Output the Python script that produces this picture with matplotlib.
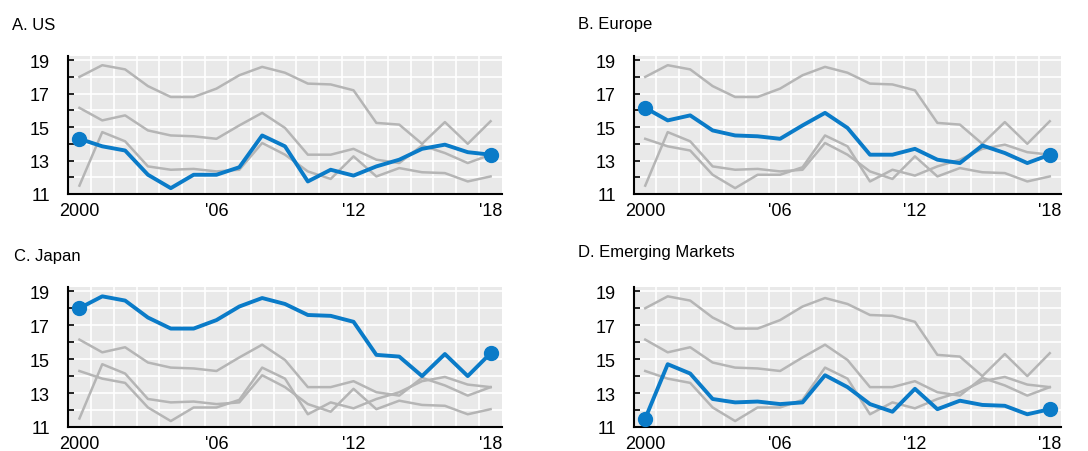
import numpy as np
import matplotlib
matplotlib.use('Agg')
import matplotlib.pyplot as plt
from matplotlib.ticker import MultipleLocator, FixedLocator

plt.rcParams['font.family'] = ['Liberation Sans', 'DejaVu Sans']

years = list(range(2000, 2019))

us = [14.3, 13.85, 13.6, 12.15, 11.35, 12.15, 12.15, 12.6, 14.5, 13.85,
      11.75, 12.45, 12.1, 12.65, 13.05, 13.7, 13.95, 13.5, 13.35]
europe = [16.15, 15.4, 15.7, 14.8, 14.5, 14.45, 14.3, 15.1, 15.85, 14.95,
          13.35, 13.35, 13.7, 13.05, 12.85, 13.9, 13.45, 12.85, 13.35]
japan = [18.0, 18.7, 18.45, 17.45, 16.8, 16.8, 17.3, 18.1, 18.6, 18.25,
         17.6, 17.55, 17.2, 15.25, 15.15, 14.0, 15.3, 14.0, 15.35]
em = [11.5, 14.7, 14.15, 12.65, 12.45, 12.5, 12.35, 12.45, 14.05, 13.35,
      12.35, 11.9, 13.25, 12.05, 12.55, 12.3, 12.25, 11.75, 12.05]

series = [us, europe, japan, em]
titles = ['A. US', 'B. Europe', 'C. Japan', 'D. Emerging Markets']
xtick_pos = [2000, 2006, 2012, 2018]
xtick_labels = ['2000', "'06", "'12", "'18"]
ytick_pos = [11, 13, 15, 17, 19]

BLUE = '#0a7bc8'
GRAY = '#b5b5b5'
BG = '#e9e9e9'

W, H = 1088, 452
fig = plt.figure(figsize=(W / 100, H / 100), dpi=100)

# axes boxes in pixels: left, top, right, bottom
boxes = [(68, 57, 502, 195), (634, 57, 1061, 195),
         (68, 288, 502, 428), (634, 288, 1061, 428)]
title_pos = [(12, 25), (578, 24), (14, 257), (578, 253)]

for i, (l, t, r, b) in enumerate(boxes):
    ax = fig.add_axes([l / W, 1 - b / H, (r - l) / W, (b - t) / H])
    ax.set_facecolor(BG)
    for j, s in enumerate(series):
        if j != i:
            ax.plot(years, s, color=GRAY, lw=1.8, zorder=2)
    ax.plot(years, series[i], color=BLUE, lw=2.8, zorder=3, solid_joinstyle='round')
    ax.plot([years[0], years[-1]], [series[i][0], series[i][-1]], 'o',
            color=BLUE, ms=10, zorder=4)

    ax.set_xlim(1999.5, 2018.5)
    ax.set_ylim(11, 19.25)
    ax.xaxis.set_major_locator(FixedLocator(xtick_pos))
    ax.set_xticklabels(xtick_labels)
    ax.xaxis.set_minor_locator(FixedLocator(np.arange(2000.5, 2018, 1)))
    ax.yaxis.set_major_locator(FixedLocator(ytick_pos))
    ax.yaxis.set_minor_locator(MultipleLocator(1))
    ax.grid(False)
    ax.grid(True, which='minor', axis='x', color='white', lw=1.2, zorder=1)
    ax.grid(True, which='both', axis='y', color='white', lw=1.2, zorder=1)
    ax.set_axisbelow(True)

    ax.tick_params(axis='x', which='both', length=0, labelsize=13, pad=6)
    ax.tick_params(axis='y', which='both', direction='in', length=4, width=1.2,
                   labelsize=13, pad=13)
    for sp in ['top', 'right']:
        ax.spines[sp].set_visible(False)
    for sp in ['left', 'bottom']:
        ax.spines[sp].set_linewidth(1.5)
        ax.spines[sp].set_color('black')

    tx, ty = title_pos[i]
    fig.text(tx / W, 1 - ty / H, titles[i], fontsize=12, va='center', ha='left')

fig.savefig('out.png', dpi=100)
